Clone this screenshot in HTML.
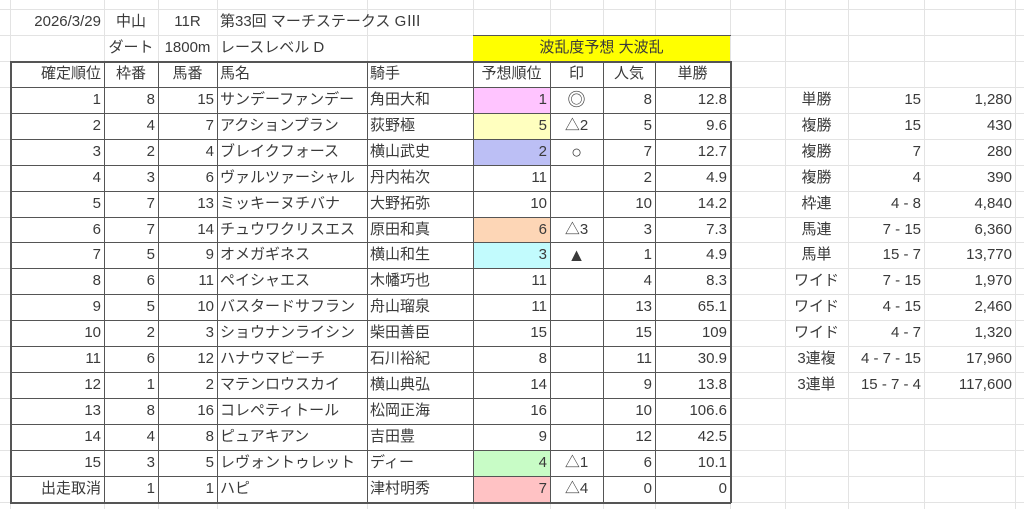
<!DOCTYPE html>
<html><head><meta charset="utf-8"><style>
body{margin:0;width:1024px;height:509px;background:#fff;overflow:hidden;position:relative;font-family:"Liberation Sans","Noto Sans CJK JP",sans-serif;font-size:15px;color:#3a3a3a}
.c{position:absolute;box-sizing:border-box;white-space:nowrap;line-height:26px;height:26px;padding:0 3px}
.gl{position:absolute;background:#e3e3e3}
.b{position:absolute;background:#555}
.mk{font-size:18px}
</style></head><body>
<div id="grid"></div>
<script>
const colX=[10,104,158,217,367,473,550,603,655,730,785,848,924,1015];
const R0=9,RH=25.94;
const ranks=['1','2','3','4','5','6','7','8','9','10','11','12','13','14','15','出走取消'];
const waku=[8,4,2,3,7,7,5,6,5,2,6,1,8,4,3,1];
const umaban=[15,7,4,6,13,14,9,11,10,3,12,2,16,8,5,1];
const names=['サンデーファンデー','アクションプラン','ブレイクフォース','ヴァルツァーシャル','ミッキーヌチバナ','チュウワクリスエス','オメガギネス','ペイシャエス','バスタードサフラン','ショウナンライシン','ハナウマビーチ','マテンロウスカイ','コレペティトール','ピュアキアン','レヴォントゥレット','ハピ'];
const jockeys=['角田大和','荻野極','横山武史','丹内祐次','大野拓弥','原田和真','横山和生','木幡巧也','舟山瑠泉','柴田善臣','石川裕紀','横山典弘','松岡正海','吉田豊','ディー','津村明秀'];
const yoso=[1,5,2,11,10,6,3,11,11,15,8,14,16,9,4,7];
const yosoBg=['#ffc4ff','#ffffbf','#bcbff5','','','#fdd6b6','#c2fbfd','','','','','','','','#c8fcc6','#ffc2c4'];
const marks=['◎','△2','○','','','△3','▲','','','','','','','','△1','△4'];
const ninki=[8,5,7,2,10,3,1,4,13,15,11,9,10,12,6,0];
const tansho=['12.8','9.6','12.7','4.9','14.2','7.3','4.9','8.3','65.1','109','30.9','13.8','106.6','42.5','10.1','0'];
const payType=['単勝','複勝','複勝','複勝','枠連','馬連','馬単','ワイド','ワイド','ワイド','3連複','3連単'];
const payCombo=['15','15','7','4','4 - 8','7 - 15','15 - 7','7 - 15','4 - 15','4 - 7','4 - 7 - 15','15 - 7 - 4'];
const payAmt=['1,280','430','280','390','4,840','6,360','13,770','1,970','2,460','1,320','17,960','117,600'];

const g=document.getElementById('grid');
function add(cls,x,y,w,h,txt,align,name,bg){
  const d=document.createElement('div');d.className=cls;
  d.style.left=x+'px';d.style.top=y+'px';d.style.width=w+'px';d.style.height=h+'px';
  if(txt!==undefined){d.textContent=txt;d.style.textAlign=align||'left';}
  if(bg)d.style.background=bg;
  
  
  g.appendChild(d);return d;}
for(let k=-1;k<20;k++){const y=R0+k*RH;add('gl',0,Math.round(y),1024,1,undefined,'','grid-row-line');}
colX.forEach(x=>add('gl',x,0,1,509,undefined,'','grid-col-line'));
function cell(ci,ri,txt,align,name,bg,span){
  const x=colX[ci],w=colX[ci+(span||1)]-x,y=R0+ri*RH;
  if(bg){const f=add('c',x,Math.round(y),w,Math.round(RH)+1,undefined,'',name+'-fill',bg);f.style.padding='0';}
  return add('c',x,Math.round(y),w,Math.round(RH),txt,align,name);}
cell(0,0,'2026/3/29','right','race-date');
cell(1,0,'中山','center','venue');
cell(2,0,'11R','center','race-number');
cell(3,0,'第33回 マーチステークス GⅢ','left','race-title',undefined,3);
cell(1,1,'ダート','center','surface');
cell(2,1,'1800m','center','distance');
cell(3,1,'レースレベル D','left','race-level');
cell(5,1,'波乱度予想 大波乱','center','upset-forecast','#ffff00',4);
const heads=['確定順位','枠番','馬番','馬名','騎手','予想順位','印','人気','単勝'];
const hal=['right','center','center','left','left','center','center','center','center'];
heads.forEach((h,i)=>cell(i,2,h,hal[i],'header-'+i));
ranks.forEach((r,i)=>{const ri=3+i;
  cell(0,ri,r,'right','finish-rank');
  cell(1,ri,waku[i],'right','frame-number');
  cell(2,ri,umaban[i],'right','horse-number');
  cell(3,ri,names[i],'left','horse-name');
  cell(4,ri,jockeys[i],'left','jockey');
  cell(5,ri,yoso[i],'right','predicted-rank',yosoBg[i]||undefined);
  const m=cell(6,ri,marks[i],'center','prediction-mark');
  if(marks[i]==='○'||marks[i]==='▲'||marks[i]==='◎')m.classList.add('mk');
  cell(7,ri,ninki[i],'right','popularity');
  cell(8,ri,tansho[i],'right','win-odds');
});
payType.forEach((t,i)=>{const ri=3+i;
  cell(10,ri,t,'center','payout-type');
  cell(11,ri,payCombo[i],'right','payout-combo');
  cell(12,ri,payAmt[i],'right','payout-amount');
});
const tableTop=Math.round(R0+2*RH),tableBot=Math.round(R0+19*RH);
for(let k=2;k<=19;k++){add('b',10,Math.round(R0+k*RH),721,(k==2||k==19)?2:1,undefined,'','table-row-border');}
for(let i=0;i<=9;i++){add('b',colX[i],tableTop,(i==0||i==9)?2:1,tableBot-tableTop+1,undefined,'','table-col-border');}
add('b',473,Math.round(R0+RH),258,1,undefined,'','yellow-top');
</script>
</body></html>
